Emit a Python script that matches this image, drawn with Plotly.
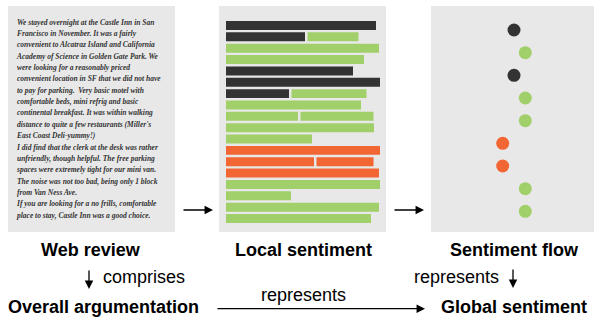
import plotly.graph_objects as go

W, H = 594, 318

# ---------------- data ----------------
review_lines = [
    "We stayed overnight at the Castle Inn in San",
    "Francisco in November. It was a fairly",
    "convenient to Alcatraz Island and California",
    "Academy of Science in Golden Gate Park. We",
    "were looking for a reasonably priced",
    "convenient location in SF that we did not have",
    "to pay for parking.  Very basic motel with",
    "comfortable beds, mini refrig and basic",
    "continental breakfast. It was within walking",
    "distance to quite a few restaurants (Miller's",
    "East Coast Deli-yummy!)",
    "I did find that the clerk at the desk was rather",
    "unfriendly, though helpful. The free parking",
    "spaces were extremely tight for our mini van.",
    "The noise was not too bad, being only 1 block",
    "from Van Ness Ave.",
    "If you are looking for a no frills, comfortable",
    "place to stay, Castle Inn was a good choice.",
]
line_index = list(range(1, len(review_lines) + 1))

# local sentiment segments (one per statement fragment on each text line)
seg_rows = [1, 2, 2, 3, 4, 5, 6, 7, 7, 8, 9, 9, 10, 11, 12, 13, 13, 14, 15, 16, 17, 18]
seg_sent = ["obj", "obj", "pos", "pos", "pos", "obj", "obj", "obj", "pos", "pos", "pos", "pos",
            "pos", "pos", "neg", "neg", "neg", "neg", "pos", "pos", "pos", "pos"]
seg_len = [150, 79, 51, 153, 138, 127, 154, 63, 75, 135, 72, 73,
           148, 86, 154, 88, 57, 153, 154, 65, 153, 145]

# sentiment flow (one value per sentence: -1 negative, 0 objective, 1 positive)
flow_values = [0, 1, 0, 1, 1, -1, -1, 1, 1]
flow_index = list(range(1, len(flow_values) + 1))

panel_titles = ["Web review", "Local sentiment", "Sentiment flow"]
relation_labels = ["comprises", "represents", "represents"]
bottom_labels = ["Overall argumentation", "Global sentiment"]

# ---------------- style ----------------
COL = {"obj": "#333333", "pos": "#a1cf6a", "neg": "#f26633"}
FLOW_COL = {-1: COL["neg"], 0: COL["obj"], 1: COL["pos"]}
BG = "#e8e8e8"
SANS = "Liberation Sans, Arial, Helvetica, sans-serif"
SERIF = "Liberation Serif, Times New Roman, serif"
GAP = 2.5


def px(x):
    return x / W


def py(y):
    return 1 - y / H


# bases for segments on the same line
bases = []
prev_row, prev_end = None, 0
for r, L in zip(seg_rows, seg_len):
    b = prev_end + GAP if r == prev_row else 0
    bases.append(b)
    prev_row, prev_end = r, b + L

fig = go.Figure()

# panel 1: text
fig.add_trace(go.Scatter(
    x=[0] * len(review_lines), y=[i - 0.24 for i in line_index], text=review_lines,
    mode="text", textposition="middle right",
    textfont=dict(family=SERIF, size=7.5, color="#333333", style="italic", weight="bold"),
    xaxis="x", yaxis="y", hoverinfo="skip", showlegend=False))

# panel 2: bars
for s in ["obj", "pos", "neg"]:
    idx = [k for k, v in enumerate(seg_sent) if v == s]
    fig.add_trace(go.Bar(
        orientation="h",
        y=[seg_rows[k] for k in idx], x=[seg_len[k] for k in idx], base=[bases[k] for k in idx],
        width=0.79, marker=dict(color=COL[s], line=dict(width=0)),
        xaxis="x2", yaxis="y2", hoverinfo="skip", showlegend=False))

# panel 3: dots
fig.add_trace(go.Scatter(
    x=flow_values, y=flow_index, mode="markers",
    marker=dict(size=13, color=[FLOW_COL[v] for v in flow_values], line=dict(width=0)),
    xaxis="x3", yaxis="y3", hoverinfo="skip", showlegend=False))

ydom = [py(232), py(6)]
ax_common = dict(showgrid=False, zeroline=False, showticklabels=False, showline=False, ticks="", fixedrange=True)
fig.update_layout(
    width=W, height=H, margin=dict(l=0, r=0, t=0, b=0),
    paper_bgcolor="white", plot_bgcolor=BG, barmode="overlay",
    xaxis=dict(domain=[px(8), px(175)], range=[-9, 158], anchor="y", **ax_common),
    yaxis=dict(domain=ydom, range=[19.189, -0.718], anchor="x", **ax_common),
    xaxis2=dict(domain=[px(219), px(386)], range=[-7, 160], anchor="y2", **ax_common),
    yaxis2=dict(domain=ydom, range=[19.189, -0.718], anchor="x2", **ax_common),
    xaxis3=dict(domain=[px(431), 1], range=[-7.345, 7.08], anchor="y3", **ax_common),
    yaxis3=dict(domain=ydom, range=[9.911, -0.059], anchor="x3", **ax_common),
)

ann = []
title_font = dict(family=SANS, size=18, color="black")
for t, cx in zip(panel_titles, [91, 303, 514]):
    ann.append(dict(text="<b>%s</b>" % t, x=px(cx), y=py(249.5), xref="paper", yref="paper",
                    xanchor="center", yanchor="middle", showarrow=False, font=title_font))
ann.append(dict(text=relation_labels[0], x=px(101), y=py(276.7), xref="paper", yref="paper",
                xanchor="left", yanchor="middle", showarrow=False, font=title_font))
ann.append(dict(text=relation_labels[2], x=px(501), y=py(276.7), xref="paper", yref="paper",
                xanchor="right", yanchor="middle", showarrow=False, font=title_font))
ann.append(dict(text=relation_labels[1], x=px(303.5), y=py(294.7), xref="paper", yref="paper",
                xanchor="center", yanchor="middle", showarrow=False, font=title_font))
ann.append(dict(text="<b>%s</b>" % bottom_labels[0], x=px(6), y=py(306.7), xref="paper", yref="paper",
                xanchor="left", yanchor="middle", showarrow=False, font=title_font))
ann.append(dict(text="<b>%s</b>" % bottom_labels[1], x=px(439), y=py(306.7), xref="paper", yref="paper",
                xanchor="left", yanchor="middle", showarrow=False, font=title_font))

# arrows: (tail_x, tail_y, head_x, head_y) in pixels
arrows = [(182, 210, 213, 210), (393, 210, 424, 210), (89, 269, 89, 289),
          (513, 268, 513, 288), (216, 308.7, 425, 308.7)]
for tx, ty, hx, hy in arrows:
    ann.append(dict(text="", x=px(hx), y=py(hy), xref="paper", yref="paper",
                    ax=tx - hx, ay=ty - hy, axref="pixel", ayref="pixel",
                    showarrow=True, arrowhead=2, arrowsize=1.3, arrowwidth=1.3,
                    arrowcolor="black", standoff=0))
fig.update_layout(annotations=ann)

fig.write_html("out.html", config={"displayModeBar": False, "staticPlot": True},
               post_script="document.body.style.margin='0';document.body.style.overflow='hidden';")
